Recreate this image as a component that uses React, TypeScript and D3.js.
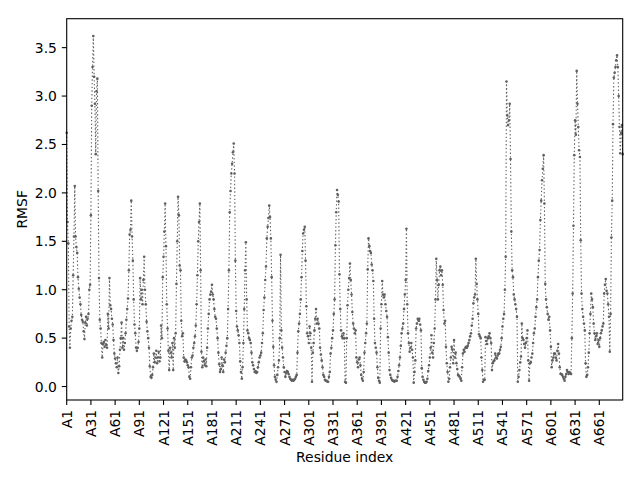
import * as d3 from 'd3'

// RMSF per residue (A1 ... A690)
const rmsf = [
  2.62, 1.70, 1.48, 0.62, 0.40, 0.60, 0.68, 0.72, 1.15, 1.55, 2.07, 1.55, 1.44, 1.38, 1.13, 1.01, 0.92, 0.85, 0.74, 0.69, 0.67, 0.57, 0.49, 0.66, 0.72, 0.63, 0.70, 0.75, 1.00, 1.05,
  1.77, 2.90, 3.30, 3.62, 3.20, 2.92, 2.40, 3.05, 3.18, 2.02, 1.12, 0.69, 0.60, 0.45, 0.30, 0.44, 0.46, 0.41, 0.48, 0.43, 0.40, 0.75, 0.60, 1.12, 0.84, 0.80, 0.70, 0.64, 0.48, 0.34,
  0.29, 0.24, 0.20, 0.30, 0.14, 0.21, 0.38, 0.50, 0.66, 0.40, 0.50, 0.38, 0.45, 0.55, 0.69, 0.80, 0.91, 1.20, 1.57, 1.62, 1.92, 1.55, 1.30, 0.90, 0.64, 0.55, 0.40, 0.37, 0.40, 0.46,
  0.60, 1.12, 0.90, 1.00, 0.85, 1.10, 1.34, 1.00, 0.85, 0.67, 0.57, 0.50, 0.40, 0.21, 0.10, 0.09, 0.12, 0.20, 0.34, 0.25, 0.30, 0.37, 0.24, 0.30, 0.36, 0.26, 0.30, 0.63, 0.50,
  1.13, 1.34, 1.60, 1.89, 1.45, 0.85, 0.60, 0.37, 0.17, 0.40, 0.35, 0.30, 0.45, 0.17, 0.50, 0.40, 0.55, 1.06, 1.50, 1.96, 1.77, 1.25, 1.20, 0.68, 0.52, 0.55, 0.30, 0.26, 0.28, 0.27,
  0.25, 0.22, 0.20, 0.10, 0.08, 0.20, 0.30, 0.32, 0.40, 0.45, 0.52, 0.63, 0.85, 1.15, 1.50, 1.70, 1.89, 1.20, 0.36, 0.20, 0.30, 0.26, 0.22, 0.28, 0.21, 0.40, 0.60, 0.75, 0.90, 0.95,
  0.98, 1.05, 0.95, 0.90, 0.80, 0.72, 0.70, 0.60, 0.50, 0.35, 0.23, 0.15, 0.18, 0.30, 0.22, 0.15, 0.28, 0.25, 0.35, 0.42, 0.50, 0.80, 1.20, 1.80, 2.02, 2.20, 2.30, 2.42, 2.51, 2.20,
  1.30, 0.78, 0.62, 0.58, 0.53, 0.45, 0.26, 0.15, 0.08, 0.20, 0.45, 0.80, 1.20, 1.49, 0.90, 0.58, 0.55, 0.50, 0.48, 0.45, 0.35, 0.25, 0.22, 0.18, 0.15, 0.16, 0.14, 0.15, 0.20,
  0.25, 0.30, 0.32, 0.35, 0.45, 0.55, 0.79, 0.92, 1.10, 1.24, 1.53, 1.65, 1.74, 1.87, 1.75, 1.53, 1.13, 0.68, 0.41, 0.22, 0.10, 0.07, 0.05, 0.12, 0.20, 0.27, 0.50, 1.36, 0.58, 0.40,
  0.30, 0.20, 0.15, 0.10, 0.14, 0.16, 0.15, 0.13, 0.10, 0.08, 0.07, 0.06, 0.07, 0.06, 0.07, 0.08, 0.10, 0.12, 0.35, 0.57, 0.65, 0.75, 0.90, 1.13, 1.40, 1.58, 1.62, 1.65, 1.30, 0.83,
  0.55, 0.52, 0.45, 0.62, 0.55, 0.40, 0.05, 0.35, 0.45, 0.58, 0.70, 0.80, 0.65, 0.70, 0.65, 0.60, 0.40, 0.33, 0.27, 0.20, 0.12, 0.10, 0.07, 0.06, 0.06, 0.05, 0.05, 0.10, 0.15,
  0.34, 0.40, 0.50, 0.58, 0.75, 0.90, 1.46, 1.80, 2.03, 1.98, 1.91, 1.16, 0.80, 0.58, 0.52, 0.50, 0.55, 0.50, 0.05, 0.04, 0.50, 0.84, 1.00, 1.12, 1.27, 1.10, 0.95, 0.77, 0.65, 0.60,
  0.55, 0.58, 0.30, 0.25, 0.20, 0.28, 0.30, 0.22, 0.12, 0.08, 0.06, 0.15, 0.35, 0.45, 0.55, 0.65, 1.21, 1.53, 1.45, 1.40, 1.38, 1.26, 1.20, 1.09, 0.70, 0.45, 0.40, 0.35, 0.20, 0.09,
  0.06, 0.04, 0.60, 0.85, 1.09, 0.95, 0.92, 0.95, 0.85, 0.78, 0.72, 0.51, 0.35, 0.17, 0.12, 0.09, 0.07, 0.06, 0.06, 0.05, 0.06, 0.06, 0.06, 0.10, 0.16, 0.22, 0.30, 0.42, 0.55, 0.60,
  0.65, 0.80, 0.95, 1.10, 1.63, 0.85, 0.55, 0.45, 0.36, 0.40, 0.45, 0.38, 0.30, 0.04, 0.15, 0.27, 0.60, 0.65, 0.70, 0.68, 0.70, 0.64, 0.58, 0.19, 0.10, 0.07, 0.05, 0.04, 0.04, 0.05,
  0.08, 0.16, 0.22, 0.30, 0.40, 0.53, 0.35, 0.30, 0.45, 0.60, 0.90, 1.32, 1.10, 0.90, 1.05, 1.20, 1.24, 1.15, 1.20, 1.05, 0.79, 0.65, 0.68, 0.41, 0.24, 0.15, 0.05, 0.08, 0.20,
  0.30, 0.41, 0.38, 0.24, 0.48, 0.30, 0.35, 0.24, 0.18, 0.12, 0.11, 0.10, 0.08, 0.06, 0.20, 0.34, 0.38, 0.36, 0.40, 0.41, 0.40, 0.42, 0.45, 0.48, 0.52, 0.55, 0.63, 0.70, 0.86, 0.92,
  0.95, 1.32, 1.06, 0.90, 0.75, 0.54, 0.52, 0.50, 0.30, 0.17, 0.05, 0.07, 0.07, 0.51, 0.47, 0.44, 0.50, 0.52, 0.55, 0.50, 0.45, 0.17, 0.24, 0.26, 0.27, 0.34, 0.30, 0.29, 0.32, 0.34,
  0.34, 0.38, 0.41, 0.50, 0.62, 0.70, 0.75, 1.00, 1.34, 3.15, 2.80, 2.70, 2.75, 2.92, 2.35, 1.60, 1.20, 1.13, 0.95, 0.90, 0.85, 0.80, 0.72, 0.05, 0.10, 0.17, 0.25, 0.31, 0.65, 0.50,
  0.48, 0.44, 0.40, 0.45, 0.50, 0.58, 0.27, 0.06, 0.24, 0.25, 0.30, 0.34, 0.45, 0.55, 0.60, 0.72, 0.82, 0.90, 1.13, 1.30, 1.41, 1.72, 1.92, 2.13, 2.25, 2.39, 1.89, 1.06, 0.90,
  0.82, 0.75, 0.69, 0.72, 0.58, 0.41, 0.20, 0.27, 0.30, 0.34, 0.34, 0.30, 0.27, 0.37, 0.44, 0.34, 0.20, 0.13, 0.13, 0.12, 0.10, 0.08, 0.06, 0.10, 0.13, 0.17, 0.15, 0.13, 0.15, 0.14,
  0.13, 0.50, 0.96, 1.66, 2.39, 2.75, 2.60, 3.26, 2.92, 2.68, 2.44, 2.37, 1.51, 0.96, 0.80, 0.72, 0.65, 0.58, 0.24, 0.10, 0.12, 0.20, 0.35, 0.55, 0.75, 0.96, 0.90, 0.82, 0.65, 0.55,
  0.48, 0.52, 0.55, 0.44, 0.48, 0.41, 0.50, 0.55, 0.58, 0.62, 0.65, 0.96, 1.05, 1.11, 0.99, 0.96, 0.85, 0.72, 0.36, 0.75, 1.54, 1.92, 2.71, 3.19, 3.24, 3.30, 3.37, 3.42, 3.30,
  3.00, 2.68, 2.41, 2.62, 2.70, 2.40,
]

const tickResidues = [1, 31, 61, 91, 121, 151, 181, 211, 241, 271, 301, 331, 361, 391, 421, 451, 481, 511, 541, 571, 601, 631, 661]
const yTicks = [0, 0.5, 1, 1.5, 2, 2.5, 3, 3.5]

const width = 640
const height = 480
const plot = { left: 66.7, right: 622.7, top: 18.7, bottom: 400 }
const tickLen = 4.9
const pad = 4.9
const font = 'DejaVu Sans'
const fontSize = 13.9
const color = '#606060'

export default function App() {
  const x = d3
    .scaleLinear()
    .domain([0, rmsf.length - 1])
    .range([plot.left, plot.right])

  // matplotlib-like 5% margins
  const [lo, hi] = d3.extent(rmsf) as [number, number]
  const m = (hi - lo) * 0.05
  const y = d3
    .scaleLinear()
    .domain([lo - m, hi + m])
    .range([plot.bottom, plot.top])

  const line = d3
    .line<number>()
    .x((_, i) => x(i))
    .y((d) => y(d))

  return (
    <div style={{ position: 'absolute', left: 0, top: 0 }}>
      <svg width={width} height={height} fontFamily={font} fontSize={fontSize}>
        <rect width={width} height={height} fill="white" />
        <path
          d={line(rmsf) ?? ''}
          fill="none"
          stroke={color}
          strokeWidth={1.1}
          strokeDasharray="1.4 2.3"
        />
        {rmsf.map((d, i) => (
          <circle key={i} cx={x(i)} cy={y(d)} r={1.3} fill={color} />
        ))}

        {/* frame */}
        <rect
          x={plot.left}
          y={plot.top}
          width={plot.right - plot.left}
          height={plot.bottom - plot.top}
          fill="none"
          stroke="black"
          strokeWidth={1.1}
        />

        {/* y axis */}
        {yTicks.map((t) => (
          <g key={t} transform={`translate(${plot.left}, ${y(t)})`}>
            <line x1={-tickLen} x2={0} stroke="black" strokeWidth={1.1} />
            <text x={-tickLen - pad} textAnchor="end" dominantBaseline="central">
              {d3.format('.1f')(t)}
            </text>
          </g>
        ))}

        {/* x axis */}
        {tickResidues.map((r) => (
          <g key={r} transform={`translate(${x(r - 1)}, ${plot.bottom})`}>
            <line y1={0} y2={tickLen} stroke="black" strokeWidth={1.1} />
            <text
              transform={`translate(0, ${tickLen + pad}) rotate(-90)`}
              textAnchor="end"
              dominantBaseline="central"
            >
              {`A${r}`}
            </text>
          </g>
        ))}

        <text
          x={(plot.left + plot.right) / 2}
          y={462}
          textAnchor="middle"
        >
          Residue index
        </text>
        <text
          transform={`translate(22, ${(plot.top + plot.bottom) / 2}) rotate(-90)`}
          textAnchor="middle"
          dominantBaseline="central"
        >
          RMSF
        </text>
      </svg>
    </div>
  )
}
